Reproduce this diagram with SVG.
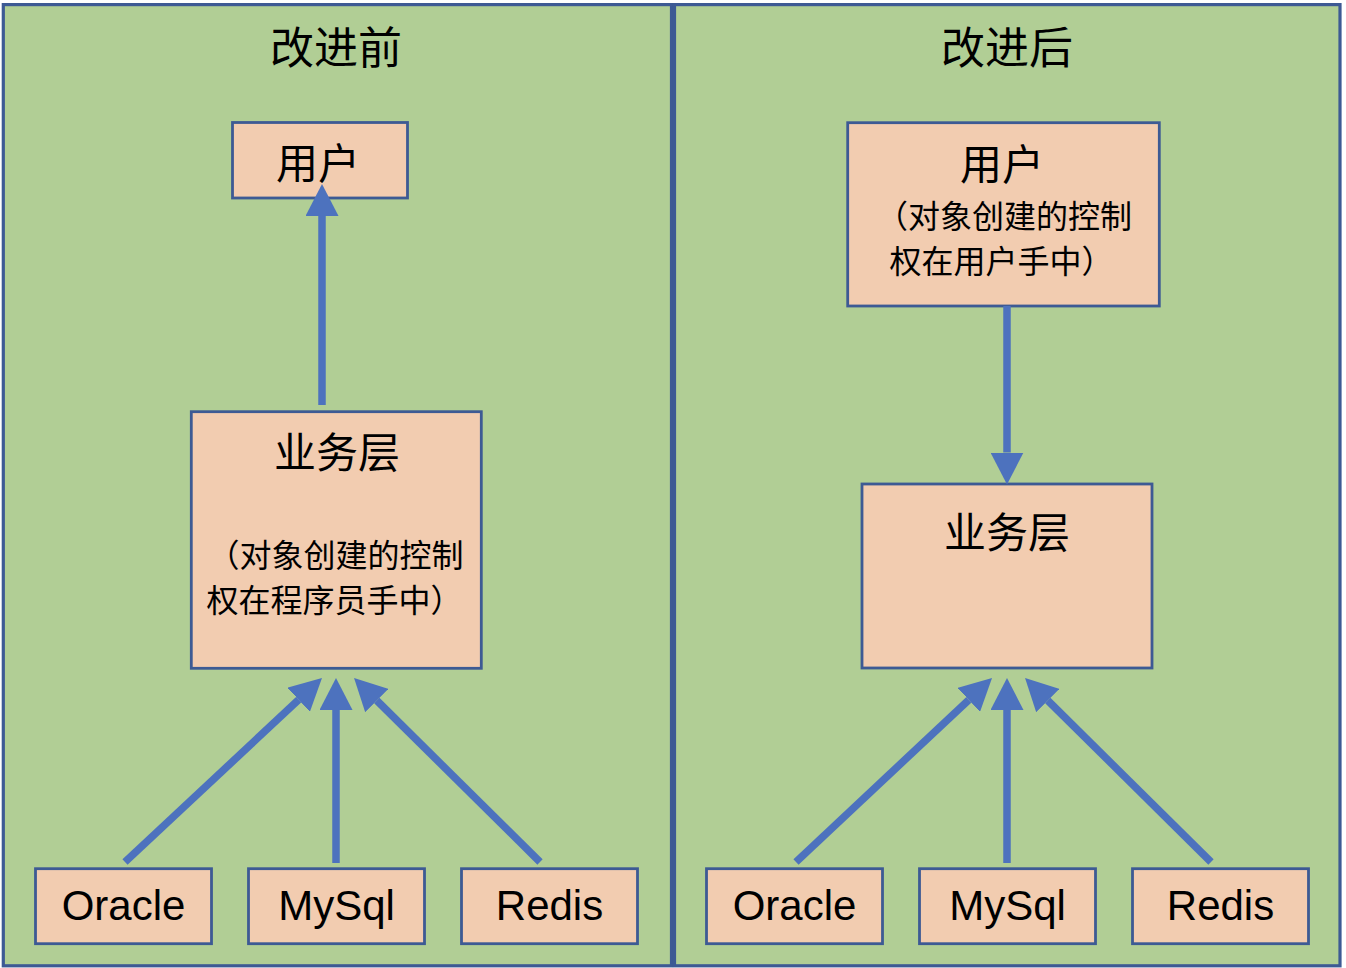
<svg xmlns="http://www.w3.org/2000/svg" width="1346" height="968" viewBox="0 0 1346 968">
<style>
.panel{fill:#B1CE95;stroke:#3D5A94;stroke-width:3.2}
.box{fill:#F2CCB0;stroke:#3D5A94;stroke-width:2.8}
.cjk{font-family:'Noto Sans CJK SC','Noto Sans',sans-serif;fill:#000}
.lat{font-family:'Liberation Sans',Arial,sans-serif;font-size:42px;fill:#000;text-anchor:middle}
.big{font-size:42px;text-anchor:middle}
.ttl{font-size:44px;text-anchor:middle}
.sub{font-size:32px}
.conn line{stroke:#4D72BE;stroke-width:7.5;fill:none;marker-end:url(#ah)}
</style>
<defs>
<marker id="ah" markerUnits="userSpaceOnUse" markerWidth="32" markerHeight="33" viewBox="0 0 32 33" refX="0" refY="16.5" orient="auto">
<path d="M0,0 L32,16.5 L0,33 Z" fill="#4D72BE"/>
</marker>
</defs>
<g id="panel-before">
<rect class="panel" x="3.3" y="4.6" width="668.2" height="961.2"/>
<text class="cjk ttl" x="336" y="64">改进前</text>
</g>
<g id="panel-after">
<rect class="panel" x="674.5" y="4.6" width="665.5" height="961.2"/>
<text class="cjk ttl" x="1007" y="64">改进后</text>
</g>
<g id="user-before">
<rect class="box" x="232.5" y="122.5" width="175" height="75.5"/>
<text class="cjk big" x="318" y="179">用户</text>
</g>
<g id="service-before">
<rect class="box" x="191.3" y="411.7" width="290" height="256.6"/>
<text class="cjk big" x="337" y="468">业务层</text>
<text class="cjk sub" x="207.5" y="567">（对象创建的控制</text>
<text class="cjk sub" x="206.5" y="612">权在程序员手中）</text>
</g>
<g id="oracle-before">
<rect class="box" x="35.5" y="868.7" width="176" height="75"/>
<text class="lat" x="123.5" y="920">Oracle</text>
</g>
<g id="mysql-before">
<rect class="box" x="248.5" y="868.7" width="176" height="75"/>
<text class="lat" x="336.5" y="920">MySql</text>
</g>
<g id="redis-before">
<rect class="box" x="461.5" y="868.7" width="176" height="75"/>
<text class="lat" x="549.5" y="920">Redis</text>
</g>
<g id="user-after">
<rect class="box" x="847.7" y="122.7" width="311.6" height="183.3"/>
<text class="cjk big" x="1002" y="180">用户</text>
<text class="cjk sub" x="876" y="228">（对象创建的控制</text>
<text class="cjk sub" x="889.5" y="273">权在用户手中）</text>
</g>
<g id="service-after">
<rect class="box" x="862" y="484" width="290" height="184"/>
<text class="cjk big" x="1007" y="548">业务层</text>
</g>
<g id="oracle-after">
<rect class="box" x="706.5" y="868.7" width="176" height="75"/>
<text class="lat" x="794.5" y="920">Oracle</text>
</g>
<g id="mysql-after">
<rect class="box" x="919.5" y="868.7" width="176" height="75"/>
<text class="lat" x="1007.5" y="920">MySql</text>
</g>
<g id="redis-after">
<rect class="box" x="1132.5" y="868.7" width="176" height="75"/>
<text class="lat" x="1220.5" y="920">Redis</text>
</g>
<g id="connectors" class="conn">
<line x1="322" y1="405" x2="322" y2="216"/>
<line x1="125" y1="862" x2="298.6" y2="699.8"/>
<line x1="336" y1="863" x2="336" y2="710"/>
<line x1="540" y1="862" x2="376.8" y2="700.5"/>
<line x1="1007" y1="306" x2="1007" y2="452.5"/>
<line x1="796" y1="862" x2="968.7" y2="699.9"/>
<line x1="1007" y1="863" x2="1007" y2="710"/>
<line x1="1211" y1="862" x2="1047.8" y2="700.5"/>
</g>
</svg>
